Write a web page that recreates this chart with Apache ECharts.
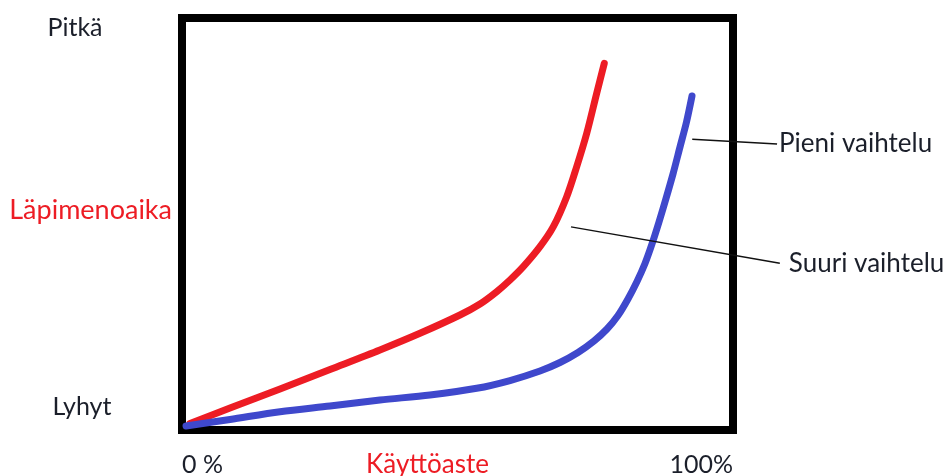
<!DOCTYPE html>
<html>
<head>
<meta charset="utf-8">
<script src="https://cdn.jsdelivr.net/npm/echarts@6/dist/echarts.min.js"></script>
<style>
  html, body { margin: 0; padding: 0; background: #fff; }
  #chart { width: 946px; height: 476px; }
</style>
</head>
<body>
<div id="chart"></div>
<script>
// Käyttöaste (%) vs läpimenoaika (relative scale 0..100)
const xTickLabels = ['0 %', '100%'];
const yTickLabels = ['Lyhyt', 'Pitkä'];

// Suuri vaihtelu (red)
const suuriX = [1.45, 8.71, 17.79, 26.86, 35.93, 43.19, 50.45, 54.08, 57.11, 59.53, 61.94, 64.97, 67.39, 69.82, 71.63, 73.45, 75.26, 76.64];
const suuriY = [1.58, 5.34, 9.95, 14.68, 19.42, 23.47, 27.91, 30.58, 33.57, 36.41, 39.64, 44.49, 49.34, 56.63, 63.91, 72.01, 81.72, 89.00];

// Pieni vaihtelu (blue)
const pieniX = [0.73, 8.71, 17.79, 26.86, 35.93, 45.01, 53.48, 59.53, 64.97, 68.60, 71.87, 74.77, 77.13, 79.13, 80.94, 82.58, 84.03, 85.30, 86.57, 87.84, 89.11, 90.38, 91.56, 92.56];
const pieniY = [0.97, 2.55, 4.44, 5.83, 7.28, 8.50, 10.12, 12.01, 14.32, 16.38, 18.81, 21.60, 24.51, 27.79, 31.80, 36.04, 40.41, 45.15, 50.49, 56.19, 62.14, 68.69, 74.76, 81.07];

// Callout leader lines (from curve out to the label), same scale, drawn past 100 %
const pieniLeader = [[92.6, 70.6], [108.0, 69.4]];
const suuriLeader = [[70.6, 49.3], [108.5, 40.5]];

const zip = (xs, ys) => xs.map((x, i) => [x, ys[i]]);
const FONT = 'Lato, "Open Sans", sans-serif';
const FS = 25;
const TEXT = '#1b1f2a';
const RED = '#ed1c24';
const BLUE = '#3f48cc';

const hiddenAxis = {
    axisLine: { show: false }, axisTick: { show: false },
    splitLine: { show: false }, axisLabel: { show: false }
};

const chart = echarts.init(document.getElementById('chart'));
chart.setOption({
    animation: false,
    backgroundColor: '#fff',
    grid: [
        {
            left: 182, top: 18, width: 551, height: 412,
            outerBoundsMode: 'none', containLabel: false,
            show: true, borderColor: '#000', borderWidth: 8, backgroundColor: '#fff'
        },
        // wider twin grid at the same scale for the callouts
        { left: 182, top: 18, width: 661.2, height: 412, outerBoundsMode: 'none', containLabel: false }
    ],
    xAxis: [
        {
            type: 'value', min: 0, max: 100, interval: 100, gridIndex: 0,
            axisLine: { show: false }, axisTick: { show: false }, splitLine: { show: false },
            axisLabel: {
                margin: 22, color: TEXT, fontFamily: FONT, fontSize: FS,
                formatter: v => v === 0 ? xTickLabels[0] : xTickLabels[1],
                alignMinLabel: 'left', alignMaxLabel: 'right'
            },
            name: 'Käyttöaste', nameLocation: 'middle', nameGap: 22, nameMoveOverlap: false,
            nameTextStyle: { color: RED, fontFamily: FONT, fontSize: 26, padding: [0, 60, 0, 0] }
        },
        Object.assign({ type: 'value', min: 0, max: 120, gridIndex: 1 }, hiddenAxis)
    ],
    yAxis: [
        {
            type: 'value', min: 0, max: 100, interval: 100, gridIndex: 0,
            axisLine: { show: false }, axisTick: { show: false }, splitLine: { show: false },
            axisLabel: {
                margin: 100, align: 'center', color: TEXT, fontFamily: FONT, fontSize: FS,
                formatter: v => v === 0 ? '{lo|' + yTickLabels[0] + '}' : '{hi|' + yTickLabels[1] + '}',
                rich: {
                    lo: { color: TEXT, fontFamily: FONT, fontSize: FS, padding: [0, 0, 46, 0] },
                    hi: { color: TEXT, fontFamily: FONT, fontSize: FS, padding: [20, 14, 0, 0] }
                }
            },
            name: 'Läpimenoaika', nameLocation: 'middle', nameRotate: 0, nameGap: 10, nameMoveOverlap: false,
            nameTextStyle: { color: RED, fontFamily: FONT, fontSize: 27, verticalAlign: 'bottom' }
        },
        Object.assign({ type: 'value', min: 0, max: 100, gridIndex: 1 }, hiddenAxis)
    ],
    series: [
        {
            name: 'Suuri vaihtelu', type: 'line', smooth: 0.3, showSymbol: false,
            data: zip(suuriX, suuriY),
            lineStyle: { color: RED, width: 7, cap: 'round', join: 'round' }, z: 3
        },
        {
            name: 'Pieni vaihtelu', type: 'line', smooth: 0.3, showSymbol: false,
            data: zip(pieniX, pieniY),
            lineStyle: { color: BLUE, width: 7, cap: 'round', join: 'round' }, z: 3
        },
        {
            type: 'line', xAxisIndex: 1, yAxisIndex: 1, showSymbol: false, data: pieniLeader,
            lineStyle: { color: '#111', width: 1.5 }, z: 4,
            endLabel: { show: true, formatter: 'Pieni vaihtelu', color: TEXT, fontFamily: FONT, fontSize: 26, distance: 2 }
        },
        {
            type: 'line', xAxisIndex: 1, yAxisIndex: 1, showSymbol: false, data: suuriLeader,
            lineStyle: { color: '#111', width: 1.5 }, z: 4,
            endLabel: { show: true, formatter: 'Suuri vaihtelu', color: TEXT, fontFamily: FONT, fontSize: 26, distance: 9 }
        }
    ]
});
</script>
</body>
</html>
